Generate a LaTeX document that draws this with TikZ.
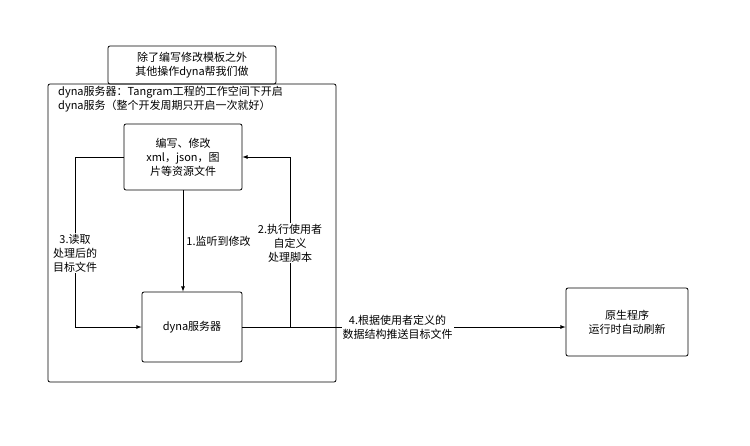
\documentclass[tikz,border=0pt]{standalone}
\usepackage{fontspec}
\setmainfont{Noto Sans CJK SC}
\usetikzlibrary{calc,positioning}
\begin{document}
\begin{tikzpicture}[x=1pt,y=-1pt,font=\fontsize{11}{14}\selectfont,
  box/.style={draw,thick,rounded corners=2pt,align=center,inner sep=0pt},
  flow/.style={->,thick,>=latex},
  lbl/.style={fill=white,align=center,inner sep=1pt}]
  \useasboundingbox (0,0) rectangle (750,445);
  %frames
  \node[box,minimum width=288,minimum height=298] (frame) at (192,233) {};
  \node[box,minimum width=168,minimum height=38] (note) at (192,65) {除了编写修改模板之外\\其他操作dyna帮我们做};
  \node[align=left,anchor=north west,inner sep=0pt] (title) at (58,86) {dyna服务器：Tangram工程的工作空间下开启\\dyna服务（整个开发周期只开启一次就好）};
  %boxes
  \node[box,minimum width=118,minimum height=66] (edit) at (183,157) {编写、修改\\xml，json，图\\片等资源文件};
  \node[box,minimum width=100,minimum height=70] (dyna) at (192,327) {dyna服务器};
  \node[box,minimum width=122,minimum height=68] (app) at (627,322) {原生程序\\运行时自动刷新};
  %connectors
  \draw[flow] (edit.south) -- node[lbl,right=2pt]{1.监听到修改} (edit.south|-dyna.north);
  \draw[flow] (dyna.east) -- ++(48,0) coordinate (c2) -- (c2|-edit.east) -- (edit.east);
  \node[lbl] (l2) at (290,243) {2.执行使用者\\自定义\\处理脚本};
  \draw[flow] (edit.west) -- (75,157) coordinate (c3) -- (c3|-dyna.west) -- (dyna.west);
  \node[lbl] (l3) at (75,253) {3.读取\\处理后的\\目标文件};
  \draw[flow] (dyna.east) -- (dyna.east-|app.west) node[pos=0.48,lbl]{4.根据使用者定义的\\数据结构推送目标文件};
\end{tikzpicture}
\end{document}
